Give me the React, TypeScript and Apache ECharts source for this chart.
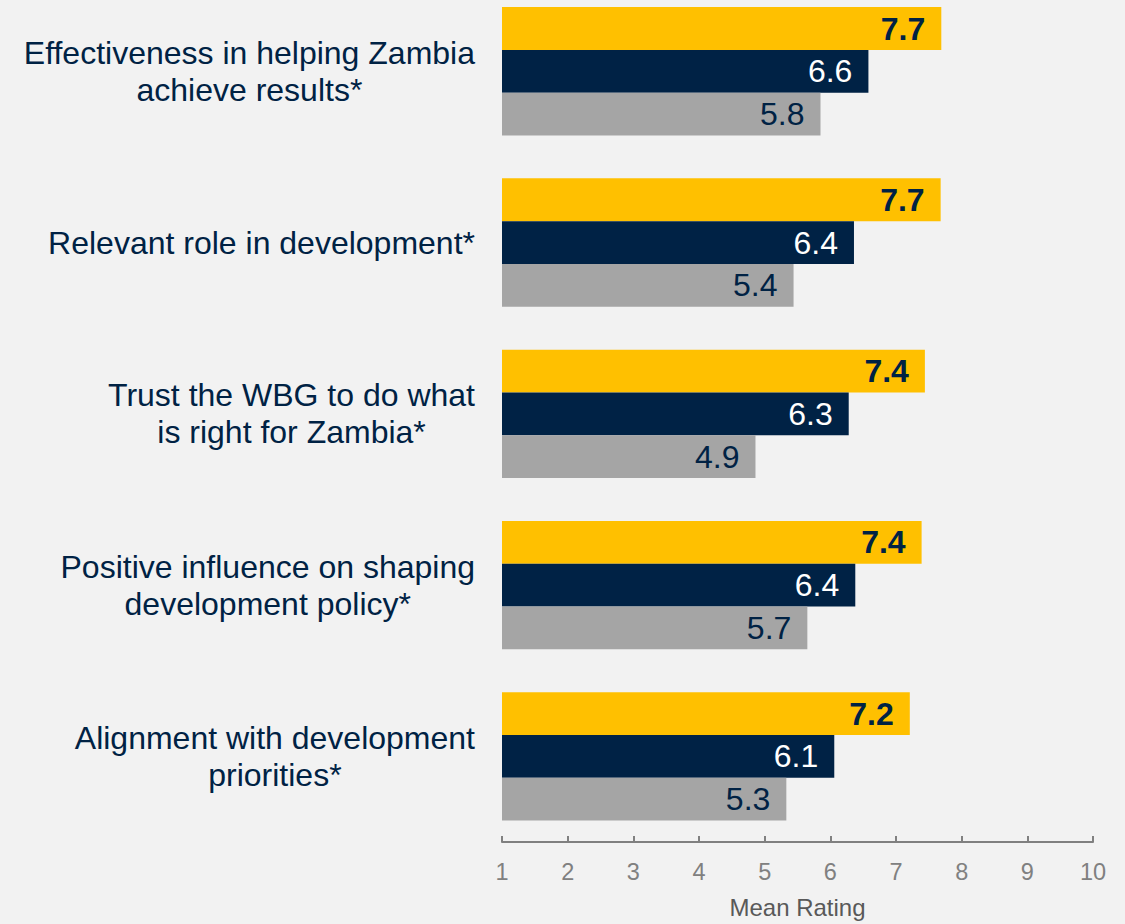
import React, { useEffect, useRef } from "react";
import * as echarts from "echarts";

const categories = [
  "Effectiveness in helping Zambia\nachieve results*",
  "Relevant role in development*",
  "Trust the WBG to do what\nis right for Zambia*",
  "Positive influence on shaping\ndevelopment policy*",
  "Alignment with development\npriorities*",
];
const seriesNames = ["Series A", "Series B", "Series C"];
const yellowValues = [7.69, 7.68, 7.44, 7.39, 7.21];
const navyValues = [6.58, 6.36, 6.28, 6.38, 6.06];
const grayValues = [5.85, 5.44, 4.86, 5.65, 5.33];
const axisMin = 1;
const axisMax = 10;
const axisTitle = "Mean Rating";

const FONT = "Arial, 'Liberation Sans', sans-serif";
const NAVY = "#002244";
const SHIFT = 15;

export default function App() {
  const ref = useRef<HTMLDivElement>(null);
  useEffect(() => {
    document.body.style.margin = "0";
    document.body.style.background = "#F2F2F2";
    const chart = echarts.init(ref.current!, null, { renderer: "svg" });
    const mkLabel = (color: string, bold: boolean) => ({
      show: true,
      position: "insideRight",
      distance: 16,
      color,
      fontSize: 32,
      fontWeight: bold ? "bold" : "normal",
      fontFamily: FONT,
      formatter: (p: any) => Number(p.value).toFixed(1),
    });
    chart.setOption({
      animation: false,
      backgroundColor: "#F2F2F2",
      grid: { left: 502, right: 32, top: 0.7, bottom: 77, containLabel: false },
      xAxis: {
        type: "value",
        min: axisMin,
        max: axisMax,
        interval: 1,
        name: axisTitle,
        nameLocation: "middle",
        nameGap: 53,
        nameTextStyle: { color: "#595959", fontSize: 24, fontFamily: FONT },
        axisLine: { show: true, lineStyle: { color: "#808080", width: 2 } },
        axisTick: { show: true, inside: true, length: 6, lineStyle: { color: "#808080", width: 2 } },
        axisLabel: { color: "#808080", fontSize: 23.5, fontFamily: FONT, margin: 18 },
        splitLine: { show: false },
      },
      yAxis: {
        type: "category",
        inverse: true,
        data: categories,
        axisLine: { show: false },
        axisTick: { show: false },
        axisLabel: {
          color: NAVY,
          fontSize: 32,
          lineHeight: 37,
          fontFamily: FONT,
          margin: 27,
          align: "right",
          formatter: (v: string) =>
            v
              .split("\n")
              .map((l) => `{c|${l}}`)
              .join("\n"),
          rich: {
            c: {
              align: "center",
              color: NAVY,
              fontSize: 32,
              lineHeight: 37,
              fontFamily: FONT,
            },
          },
        },
      },
      series: [
        {
          name: seriesNames[0],
          type: "bar",
          data: yellowValues,
          itemStyle: { color: "#FFC000" },
          barGap: "0%",
          barCategoryGap: "25%",
          label: mkLabel(NAVY, true),
        },
        {
          name: seriesNames[1],
          type: "bar",
          data: navyValues,
          itemStyle: { color: "#002245" },
          barGap: "0%",
          barCategoryGap: "25%",
          label: mkLabel("#FFFFFF", false),
        },
        {
          name: seriesNames[2],
          type: "bar",
          data: grayValues,
          itemStyle: { color: "#A5A5A5" },
          barGap: "0%",
          barCategoryGap: "25%",
          label: mkLabel(NAVY, false),
        },
      ],
    });
    return () => chart.dispose();
  }, []);
  return <div ref={ref} style={{ width: 1125, height: 924 + SHIFT, marginTop: -SHIFT }} />;
}
